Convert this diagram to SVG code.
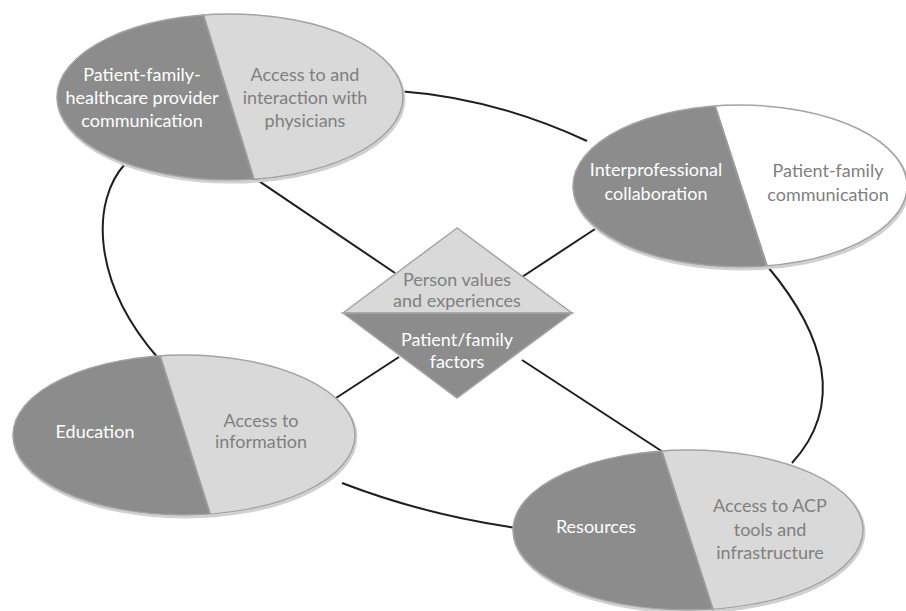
<svg xmlns="http://www.w3.org/2000/svg" width="906" height="611" viewBox="0 0 906 611">
  <style>
    .link { fill: none; stroke: #1e1e1e; stroke-width: 2; }
    .shadow { fill: none; stroke: #d0d0d0; stroke-width: 3; }
    .light { fill: #d9d9d9; }
    .white { fill: #ffffff; }
    .dark { fill: #8c8c8c; }
    .rim { fill: none; stroke: #a3a3a3; stroke-width: 1.5; }
    .split { stroke: #9a9a9a; stroke-width: 2; }
    text { font-family: Lato, "Open Sans", "Liberation Sans", sans-serif; font-size: 18px; text-anchor: middle; }
    .tw { fill: #ffffff; }
    .tg { fill: #7f7f7f; }
  </style>
  <defs>
    <clipPath id="cut-tl"><polygon points="0,0 199,0 260,200 0,200"/></clipPath>
    <clipPath id="cut-tr"><polygon points="560,90 710,90 774,290 560,290"/></clipPath>
    <clipPath id="cut-bl"><polygon points="0,340 155,340 215,530 0,530"/></clipPath>
    <clipPath id="cut-br"><polygon points="500,440 658.5,440 716,620 500,620"/></clipPath>
  </defs>
  <rect width="906" height="611" fill="#ffffff"/>

  <g id="connectors">
    <path class="link" d="M398,91 Q495,98 587,141"/>
    <path class="link" d="M768,267 C825,335 845,405 792,463"/>
    <path class="link" d="M342,483 Q425,515 517,528"/>
    <path class="link" d="M125,164 C92,200 90,280 158,358"/>
    <path class="link" d="M253,177 L395,273"/>
    <path class="link" d="M595,229 L522,277"/>
    <path class="link" d="M399,357 L336,398"/>
    <path class="link" d="M522,360 L663,452"/>
  </g>

  <g id="node-communication">
    <ellipse class="shadow" cx="231" cy="99" rx="173" ry="83"/>
    <ellipse class="light" cx="230" cy="97" rx="173" ry="83"/>
    <ellipse class="dark" cx="230" cy="97" rx="173" ry="83" clip-path="url(#cut-tl)"/>
    <line class="split" x1="203" y1="14" x2="254" y2="180"/>
    <ellipse class="rim" cx="230" cy="97" rx="173" ry="83"/>
    <text class="tw" x="142" y="81">Patient-family-</text>
    <text class="tw" x="142" y="104">healthcare provider</text>
    <text class="tw" x="142" y="127">communication</text>
    <text class="tg" x="305" y="81">Access to and</text>
    <text class="tg" x="305" y="104">interaction with</text>
    <text class="tg" x="305" y="127">physicians</text>
  </g>

  <g id="node-collaboration">
    <ellipse class="shadow" cx="741" cy="188" rx="167" ry="81"/>
    <ellipse class="white" cx="740" cy="186" rx="167" ry="81"/>
    <ellipse class="dark" cx="740" cy="186" rx="167" ry="81" clip-path="url(#cut-tr)"/>
    <line class="split" x1="715" y1="106" x2="767" y2="266"/>
    <ellipse class="rim" cx="740" cy="186" rx="167" ry="81"/>
    <text class="tw" x="656" y="176">Interprofessional</text>
    <text class="tw" x="656" y="200">collaboration</text>
    <text class="tg" x="828" y="177">Patient-family</text>
    <text class="tg" x="828" y="201">communication</text>
  </g>

  <g id="node-education">
    <ellipse class="shadow" cx="185" cy="437" rx="171" ry="80"/>
    <ellipse class="light" cx="184" cy="435" rx="171" ry="80"/>
    <ellipse class="dark" cx="184" cy="435" rx="171" ry="80" clip-path="url(#cut-bl)"/>
    <line class="split" x1="160" y1="356" x2="210" y2="514"/>
    <ellipse class="rim" cx="184" cy="435" rx="171" ry="80"/>
    <text class="tw" x="95" y="438">Education</text>
    <text class="tg" x="261" y="427">Access to</text>
    <text class="tg" x="261" y="448">information</text>
  </g>

  <g id="node-resources">
    <ellipse class="shadow" cx="689" cy="532" rx="175" ry="80"/>
    <ellipse class="light" cx="688" cy="530" rx="175" ry="80"/>
    <ellipse class="dark" cx="688" cy="530" rx="175" ry="80" clip-path="url(#cut-br)"/>
    <line class="split" x1="662" y1="452" x2="713" y2="610"/>
    <ellipse class="rim" cx="688" cy="530" rx="175" ry="80"/>
    <text class="tw" x="596" y="533">Resources</text>
    <text class="tg" x="770" y="512">Access to ACP</text>
    <text class="tg" x="770" y="536">tools and</text>
    <text class="tg" x="770" y="559">infrastructure</text>
  </g>

  <g id="node-factors">
    <polygon class="light" points="457,228 343,313 572,313" stroke="#a6a6a6" stroke-width="1.5"/>
    <polygon class="dark" points="343,313 572,313 457,398" stroke="#a6a6a6" stroke-width="1.5"/>
    <text class="tg" x="457" y="286">Person values</text>
    <text class="tg" x="457" y="307">and experiences</text>
    <text class="tw" x="457" y="346">Patient/family</text>
    <text class="tw" x="457" y="368">factors</text>
  </g>
</svg>
